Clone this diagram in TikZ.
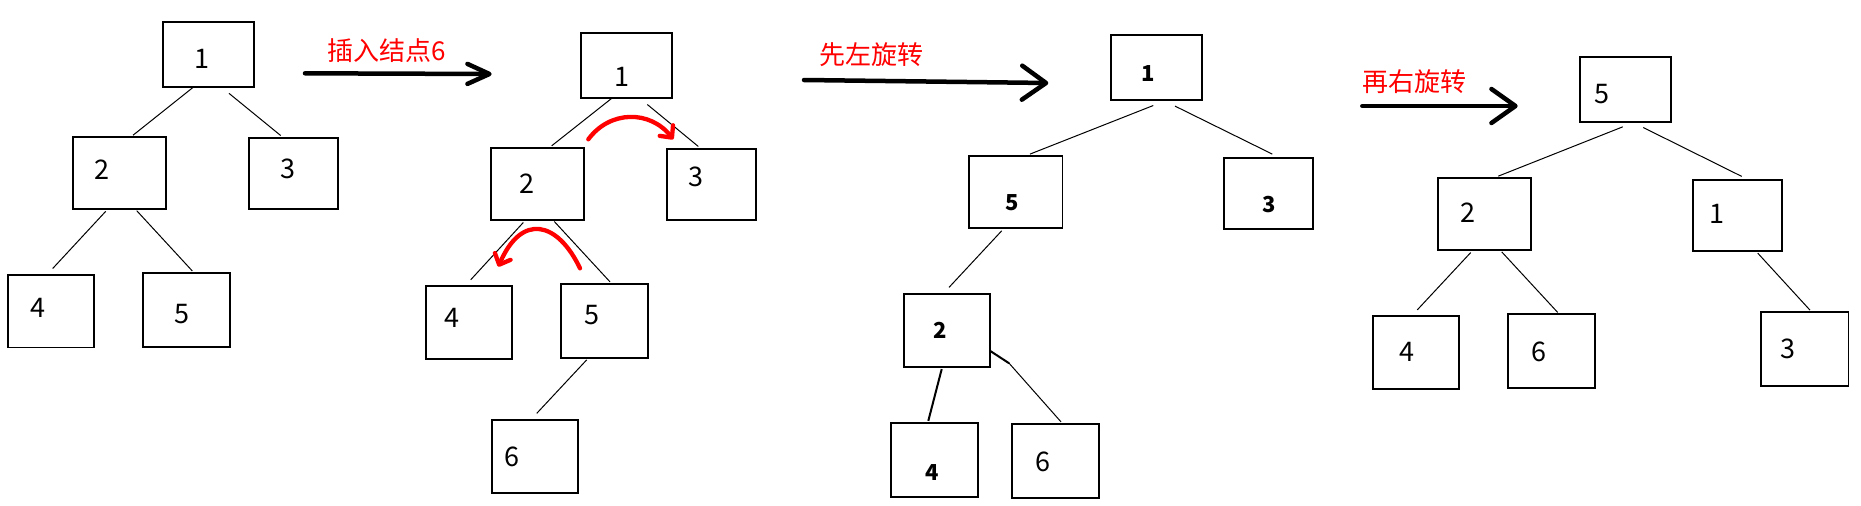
\documentclass[tikz,border=0pt]{standalone}
\usepackage{fontspec}
\setmainfont{Noto Sans CJK SC}
\usetikzlibrary{arrows.meta}
\begin{document}
\begin{tikzpicture}[x=1pt,y=-1pt,
  box/.style={draw, line width=1.7pt, inner sep=0pt},
  num/.style={inner sep=0pt, font=\fontsize{27}{27}\selectfont},
  bnum/.style={inner sep=0pt, font=\fontsize{22}{22}\selectfont\bfseries},
  edge/.style={line width=1pt},
  redlbl/.style={text=red, inner sep=0pt, font=\fontsize{26}{26}\selectfont},
  bigarrow/.style={line width=4.5pt, line cap=round},
  rot/.style={red, line width=4.3pt, line cap=round, -{Straight Barb[length=9pt,width=17pt,round]}}]
\useasboundingbox (0,0) rectangle (1861,506);

% ---------- Tree A ----------
\node[box, minimum width=91pt, minimum height=65pt] (A1) at (208.3,54.3) {};
\node[box, minimum width=93pt, minimum height=72pt] (A2) at (119.3,172.8) {};
\node[box, minimum width=89pt, minimum height=71pt] (A3) at (293.5,173.3) {};
\node[box, minimum width=86.5pt, minimum height=72.5pt] (A4) at (51,311.3) {};
\node[box, minimum width=87pt, minimum height=74pt] (A5) at (186.3,309.8) {};
\node[num] (a1) at (201.7,59.3) {1};
\node[num] (a2) at (102,170) {2};
\node[num] (a3) at (288,169) {3};
\node[num] (a4) at (38,308) {4};
\node[num] (a5) at (182,314) {5};
\draw[edge] ([shift={(-14.3,-1)}]A1.south) -- ([shift={(13.7,-0.7)}]A2.north);
\draw[edge] ([shift={(20.7,5.7)}]A1.south) -- ([shift={(-12.8,-1.4)}]A3.north);
\draw[edge] ([shift={(-13.6,1.7)}]A2.south) -- ([shift={(1.7,-5.7)}]A4.north);
\draw[edge] ([shift={(17.4,1)}]A2.south) -- ([shift={(6,-1)}]A5.north);

% ---------- Arrow 1 ----------
\coordinate (s1) at (305,73.3);
\coordinate (e1) at (491.7,74);
\draw[bigarrow, -{Straight Barb[length=22pt,width=20pt,round]}] (s1) -- (e1);
\node[redlbl] (l1) at (386.7,51) {插入结点6};

% ---------- Tree B ----------
\node[box, minimum width=91.5pt, minimum height=65.5pt] (B1) at (626.5,65.5) {};
\node[box, minimum width=93.5pt, minimum height=72.3pt] (B2) at (537.5,183.8) {};
\node[box, minimum width=89.3pt, minimum height=71pt] (B3) at (711.3,184.5) {};
\node[box, minimum width=86.6pt, minimum height=73.3pt] (B4) at (469,322.3) {};
\node[box, minimum width=87.6pt, minimum height=74pt] (B5) at (604.5,320.7) {};
\node[box, minimum width=86.6pt, minimum height=72.7pt] (B6) at (535,456.3) {};
\node[num] (b1) at (621.7,77.3) {1};
\node[num] (b2) at (527.3,183.3) {2};
\node[num] (b3) at (696,176.7) {3};
\node[num] (b4) at (452.3,318.3) {4};
\node[num] (b5) at (591.7,315) {5};
\node[num] (b6) at (511.7,456.7) {6};
\draw[edge] ([shift={(-14.5,-1)}]B1.south) -- ([shift={(14.2,-1)}]B2.north);
\draw[edge] ([shift={(20.8,5.4)}]B1.south) -- ([shift={(-13,-1.7)}]B3.north);
\draw[edge] ([shift={(-14.2,1.7)}]B2.south) -- ([shift={(1.7,-5)}]B4.north);
\draw[edge] ([shift={(16.8,0.7)}]B2.south) -- ([shift={(5.5,-1)}]B5.north);
\draw[edge] ([shift={(-17.8,1.3)}]B5.south) -- ([shift={(1.7,-5.7)}]B6.north);
% rotation marks
\coordinate (r1s) at (588.3,139.3);
\coordinate (r1e) at (673.3,139.3);
\draw[rot] (r1s) .. controls (610,110) and (650,110) .. (r1e);
\coordinate (r2s) at (580,268.3);
\coordinate (r2e) at (498.3,266.7);
\draw[rot] (r2s) .. controls (558,222) and (522,212) .. (r2e);

% ---------- Arrow 2 ----------
\coordinate (s2) at (804,80);
\coordinate (e2) at (1048.3,83);
\draw[bigarrow, -{Straight Barb[length=24pt,width=34pt,round]}] (s2) -- (e2);
\node[redlbl] (l2) at (871.3,55) {先左旋转};

% ---------- Tree C ----------
\node[box, minimum width=91.6pt, minimum height=65.3pt] (C1) at (1156.5,67.3) {};
\node[box, minimum width=93.3pt, minimum height=72.3pt] (C5) at (1015.7,191.8) {};
\node[box, minimum width=89.5pt, minimum height=71.3pt] (C3) at (1268.4,193.3) {};
\node[box, minimum width=86.6pt, minimum height=73.3pt] (C2) at (947,330.3) {};
\node[box, minimum width=87.6pt, minimum height=74pt] (C4) at (934.5,460) {};
\node[box, minimum width=87.6pt, minimum height=74pt] (C6) at (1055.5,461) {};
\node[bnum] (c1) at (1147.7,74) {1};
\node[bnum] (c5) at (1012.3,202.3) {5};
\node[bnum] (c3) at (1269,204.3) {3};
\node[bnum] (c2) at (940,330) {2};
\node[bnum] (c4) at (931.7,472.3) {4};
\node[num] (c6) at (1043.3,462.3) {6};
\draw[edge] ([shift={(-3.2,4.7)}]C1.south) -- ([shift={(14.3,-0.7)}]C5.north);
\draw[edge] ([shift={(18.5,5.3)}]C1.south) -- ([shift={(3.9,-2.7)}]C3.north);
\draw[edge] ([shift={(-14,2)}]C5.south) -- ([shift={(2,-5.4)}]C2.north);
\draw[line width=2pt] ([shift={(-5.3,1.3)}]C2.south) -- ([shift={(-6.2,-1.3)}]C4.north);
\draw[line width=2pt] ([shift={(-1.3,20.4)}]C2.east) -- ([shift={(18,33)}]C2.east);
\draw[edge] ([shift={(18,33)}]C2.east) -- ([shift={(5.5,-1.3)}]C6.north);

% ---------- Arrow 3 ----------
\coordinate (s3) at (1362.3,106);
\coordinate (e3) at (1517.7,106);
\draw[bigarrow, -{Straight Barb[length=24pt,width=34pt,round]}] (s3) -- (e3);
\node[redlbl] (l3) at (1414,81.3) {再右旋转};

% ---------- Tree D ----------
\node[box, minimum width=91.3pt, minimum height=65pt] (D5) at (1625.3,89.5) {};
\node[box, minimum width=93.3pt, minimum height=72pt] (D2) at (1484.3,214) {};
\node[box, minimum width=89pt, minimum height=70.7pt] (D1) at (1737.5,215.3) {};
\node[box, minimum width=86.6pt, minimum height=73pt] (D4) at (1416,352.2) {};
\node[box, minimum width=87.3pt, minimum height=74pt] (D6) at (1551.3,350.7) {};
\node[box, minimum width=87.3pt, minimum height=74pt] (D3) at (1804.7,349) {};
\node[num] (d5) at (1601.7,94.3) {5};
\node[num] (d2) at (1468.3,212.7) {2};
\node[num] (d1) at (1717.3,214.3) {1};
\node[num] (d4) at (1407.3,351.7) {4};
\node[num] (d6) at (1539.3,351.7) {6};
\node[num] (d3) at (1788.3,349) {3};
\draw[edge] ([shift={(-2.6,4)}]D5.south) -- ([shift={(14,-1)}]D2.north);
\draw[edge] ([shift={(18,4.7)}]D5.south) -- ([shift={(4.2,-2.7)}]D1.north);
\draw[edge] ([shift={(-13.6,1.7)}]D2.south) -- ([shift={(1.3,-5)}]D4.north);
\draw[edge] ([shift={(17.4,1)}]D2.south) -- ([shift={(6.4,-0.4)}]D6.north);
\draw[edge] ([shift={(20.2,1.6)}]D1.south) -- ([shift={(5.3,-1)}]D3.north);
\end{tikzpicture}
\end{document}
